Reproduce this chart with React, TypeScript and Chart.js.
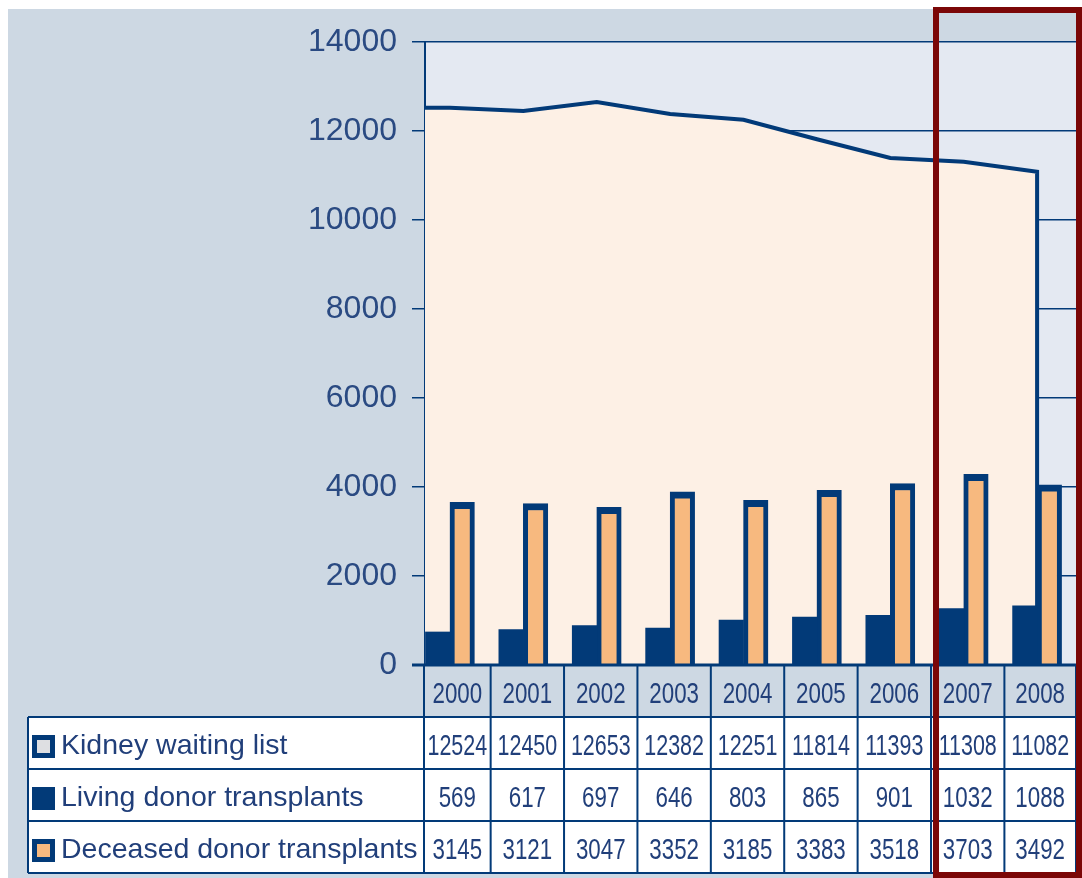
import { useEffect, useRef } from 'react';
import { Chart, registerables } from 'chart.js';

Chart.register(...registerables);

// ---- data ----
const years = ['2000', '2001', '2002', '2003', '2004', '2005', '2006', '2007', '2008'];
const waitingList = [12524, 12450, 12653, 12382, 12251, 11814, 11393, 11308, 11082];
const livingDonor = [569, 617, 697, 646, 803, 865, 901, 1032, 1088];
const deceasedDonor = [3145, 3121, 3047, 3352, 3185, 3383, 3518, 3703, 3492];
const seriesLabels = ['Kidney waiting list', 'Living donor transplants', 'Deceased donor transplants'];
const tableRows = [waitingList, livingDonor, deceasedDonor];

// axis ranges
const Y_MIN = 0;
const Y_MAX = 14000;
const Y_STEP = 2000;
// bars in the original picture are drawn on their own (unlabelled) scale
const BAR_AXIS_MIN = -87;
const BAR_AXIS_MAX = 12290;
const X_MIN = -0.34;
const X_MAX = 8.53;
const HIGHLIGHT_FROM = 7; // index of 2007

// ---- styles ----
const NAVY = '#023a78';
const TEXT = '#213f7a';
const TICK_TEXT = '#2a4a82';
const ORANGE = '#f7b97f';
const PEACH = '#fdf0e5';
const OUTER_BG = '#cdd8e3';
const PLOT_BG = '#e4e9f2';
const RED = '#7b0707';
const FONT = '"Liberation Sans", Arial, Helvetica, sans-serif';

function narrowText(ctx: CanvasRenderingContext2D, text: string, cx: number, cy: number, size: number, sx: number) {
  ctx.save();
  ctx.translate(cx, cy);
  ctx.scale(sx, 1);
  ctx.font = `${size}px ${FONT}`;
  ctx.textAlign = 'center';
  ctx.textBaseline = 'middle';
  ctx.fillStyle = TEXT;
  ctx.fillText(text, 0, 0);
  ctx.restore();
}

const backgroundPlugin = {
  id: 'bgPlugin',
  beforeDraw(chart: any) {
    const { ctx, chartArea: a, width, height } = chart;
    ctx.save();
    ctx.fillStyle = '#ffffff';
    ctx.fillRect(0, 0, width, height);
    ctx.fillStyle = OUTER_BG;
    ctx.fillRect(8, 9, width - 8, height - 9);
    ctx.fillStyle = PLOT_BG;
    ctx.fillRect(a.left, a.top, a.right - a.left, a.bottom - a.top);
    ctx.restore();
  },
};

const axisLinePlugin = {
  id: 'axisLinePlugin',
  afterDatasetsDraw(chart: any) {
    const { ctx, chartArea: a } = chart;
    ctx.save();
    ctx.strokeStyle = NAVY;
    ctx.lineWidth = 3;
    ctx.beginPath();
    ctx.moveTo(a.left - 13, a.bottom);
    ctx.lineTo(a.right, a.bottom);
    ctx.stroke();
    ctx.restore();
  },
};

const tablePlugin = {
  id: 'tablePlugin',
  afterDraw(chart: any) {
    const { ctx, chartArea: a } = chart;
    const xs = chart.scales.x;
    const tableLeft = 28;
    const colLeft = a.left - 1;
    const tableRight = a.right;
    const headerTop = a.bottom;
    const bodyTop = 717;
    const rowH = 52;
    const tableBottom = bodyTop + rowH * 3;
    const seps = years.slice(0, -1).map((_, i) => xs.getPixelForValue(i + 0.5) + 4);
    const bounds = [colLeft, ...seps, tableRight];

    ctx.save();
    // body background
    ctx.fillStyle = '#ffffff';
    ctx.fillRect(tableLeft, bodyTop, tableRight - tableLeft, tableBottom - bodyTop);

    // grid lines
    ctx.strokeStyle = NAVY;
    ctx.lineWidth = 2;
    ctx.beginPath();
    for (let r = 0; r <= 3; r++) {
      const y = bodyTop + r * rowH;
      ctx.moveTo(tableLeft, y);
      ctx.lineTo(tableRight, y);
    }
    ctx.moveTo(tableLeft, bodyTop);
    ctx.lineTo(tableLeft, tableBottom);
    bounds.forEach((bx) => {
      ctx.moveTo(bx, headerTop);
      ctx.lineTo(bx, tableBottom);
    });
    ctx.stroke();

    // header years
    const headerMid = (headerTop + bodyTop) / 2 + 4;
    years.forEach((yr, i) => {
      const cx = (bounds[i] + bounds[i + 1]) / 2;
      narrowText(ctx, yr, cx, headerMid, 29, 0.77);
    });

    // rows
    tableRows.forEach((row, r) => {
      const cy = bodyTop + r * rowH + rowH / 2 + 3.5;
      // legend marker
      const sx = 32, sz = 23;
      ctx.fillStyle = NAVY;
      ctx.fillRect(sx, cy - sz / 2, sz, sz);
      if (r === 0 || r === 2) {
        ctx.fillStyle = r === 0 ? '#dedfe2' : ORANGE;
        ctx.fillRect(sx + 5, cy - sz / 2 + 5, sz - 10, sz - 10);
      }
      ctx.font = `28.5px ${FONT}`;
      ctx.textAlign = 'left';
      ctx.textBaseline = 'middle';
      ctx.fillStyle = TEXT;
      ctx.fillText(seriesLabels[r], 61, cy);
      row.forEach((v, i) => {
        const cx = (bounds[i] + bounds[i + 1]) / 2;
        const s = String(v);
        narrowText(ctx, s, cx, cy, 29, s.length >= 5 ? 0.74 : 0.77);
      });
    });

    // highlight box around the last years
    const boxLeft = seps[HIGHLIGHT_FROM - 1] + 5;
    ctx.strokeStyle = RED;
    ctx.lineWidth = 6;
    ctx.strokeRect(boxLeft, 10, chart.width - 3 - boxLeft, chart.height - 3 - 10);
    ctx.restore();
  },
};

export default function App() {
  const ref = useRef<HTMLCanvasElement>(null);

  useEffect(() => {
    const last = waitingList.length - 1;
    const areaPoints = [
      { x: X_MIN, y: waitingList[0] },
      ...waitingList.map((v, i) => ({ x: i, y: v })),
      { x: last, y: 0 },
    ];
    const chart = new Chart(ref.current as HTMLCanvasElement, {
      type: 'bar',
      data: {
        datasets: [
          {
            type: 'bar',
            label: seriesLabels[1],
            data: livingDonor.map((v, i) => ({ x: i, y: v })),
            xAxisID: 'x',
            yAxisID: 'y2',
            base: BAR_AXIS_MIN,
            backgroundColor: NAVY,
            borderWidth: 0,
            barThickness: 24.5,
            order: 1,
          } as any,
          {
            type: 'bar',
            label: seriesLabels[2],
            data: deceasedDonor.map((v, i) => ({ x: i, y: v })),
            xAxisID: 'x',
            yAxisID: 'y2',
            base: BAR_AXIS_MIN,
            backgroundColor: ORANGE,
            borderColor: NAVY,
            borderWidth: { top: 7, left: 5, right: 5, bottom: 0 },
            borderSkipped: 'bottom',
            barThickness: 24.5,
            order: 1,
          } as any,
          {
            type: 'line',
            label: seriesLabels[0],
            data: areaPoints,
            xAxisID: 'x',
            yAxisID: 'y',
            borderColor: NAVY,
            borderWidth: 4,
            backgroundColor: PEACH,
            fill: 'origin',
            pointRadius: 0,
            tension: 0,
            order: 2,
          } as any,
        ],
      },
      options: {
        responsive: false,
        animation: false,
        devicePixelRatio: 1,
        layout: { padding: { left: 0, top: 42, right: 6, bottom: 213 } },
        plugins: { legend: { display: false }, tooltip: { enabled: false } },
        scales: {
          x: {
            type: 'linear',
            display: false,
            min: X_MIN,
            max: X_MAX,
            offset: false,
          },
          y: {
            type: 'linear',
            position: 'left',
            min: Y_MIN,
            max: Y_MAX,
            ticks: {
              stepSize: Y_STEP,
              callback: (v: any) => String(v),
              font: { family: FONT, size: 32 },
              color: TICK_TEXT,
              padding: 15,
            },
            grid: { color: NAVY, lineWidth: 1.5, tickLength: 13, drawTicks: true },
            border: { display: true, color: NAVY, width: 2 },
            afterFit: (scale: any) => {
              scale.width = 425;
            },
          },
          y2: {
            type: 'linear',
            display: false,
            min: BAR_AXIS_MIN,
            max: BAR_AXIS_MAX,
          },
        },
      } as any,
      plugins: [backgroundPlugin, axisLinePlugin, tablePlugin],
    });
    return () => chart.destroy();
  }, []);

  return (
    <div style={{ position: 'fixed', left: 0, top: 0, width: 1082, height: 878 }}>
      <canvas ref={ref} width={1082} height={878} style={{ display: 'block', width: 1082, height: 878 }} />
    </div>
  );
}
